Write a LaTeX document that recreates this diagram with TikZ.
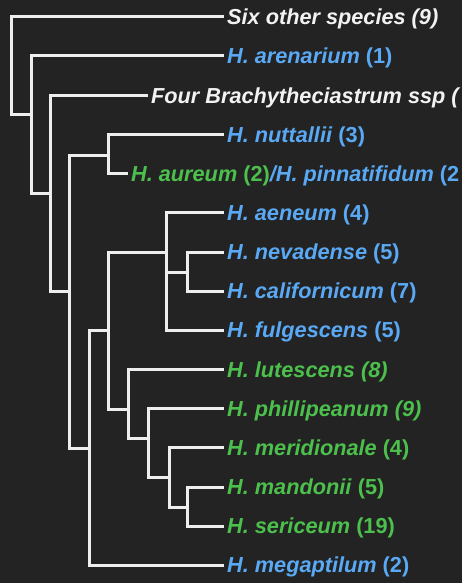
\documentclass[tikz,border=0pt]{standalone}
\usepackage{fontspec}
\setmainfont{Liberation Sans}
\definecolor{bgdark}{HTML}{232323}
\definecolor{branchgray}{HTML}{EEEEEE}
\definecolor{taxwhite}{HTML}{F2F2F2}
\definecolor{cladeblue}{HTML}{5AA9F5}
\definecolor{cladegreen}{HTML}{4CC04C}
\tikzset{
  branch/.style={draw=branchgray, line width=3pt},
  taxon/.style={anchor=west, inner xsep=3pt, inner ysep=0pt, text height=15.5pt, text depth=0pt,
    font=\fontsize{21.7}{26}\selectfont\bfseries\itshape},
}
\newcommand{\tcount}[1]{\textup{#1}}
\begin{document}
\begin{tikzpicture}[x=1pt, y=-1pt]
    \fill[bgdark] (0,0) rectangle (462,583);
    \useasboundingbox (0,0) rectangle (462,583);

    \node[taxon, text=taxwhite] (six) at (224,17) {Six other species (9)};
    \node[taxon, text=cladeblue] (aren) at (224,56) {H. arenarium \tcount{(1)}};
    \node[taxon, text=taxwhite] (brach) at (148,95.5) {Four Brachytheciastrum ssp (};
    \node[taxon, text=cladeblue] (nutt) at (224,134.5) {H. nuttallii \tcount{(3)}};
    \node[taxon, text=cladegreen] (aur) at (128,173.5) {H. aureum \tcount{(2)}\textcolor{cladeblue}{/H. pinnatifidum \tcount{(2}}};
    \node[taxon, text=cladeblue] (aen) at (224,212.5) {H. aeneum \tcount{(4)}};
    \node[taxon, text=cladeblue] (nev) at (224,252) {H. nevadense \tcount{(5)}};
    \node[taxon, text=cladeblue] (cal) at (224,291) {H. californicum \tcount{(7)}};
    \node[taxon, text=cladeblue] (fulg) at (224,330) {H. fulgescens \tcount{(5)}};
    \node[taxon, text=cladegreen] (lut) at (224,369.5) {H. lutescens (8)};
    \node[taxon, text=cladegreen] (phil) at (224,408.5) {H. phillipeanum (9)};
    \node[taxon, text=cladegreen] (mer) at (224,447.5) {H. meridionale \tcount{(4)}};
    \node[taxon, text=cladegreen] (mand) at (224,487) {H. mandonii \tcount{(5)}};
    \node[taxon, text=cladegreen] (seri) at (224,526) {H. sericeum \tcount{(19)}};
    \node[taxon, text=cladeblue] (mega) at (224,565) {H. megaptilum \tcount{(2)}};

    \coordinate (root) at (11,66);
    \coordinate (nA) at (31,115);
    \coordinate (nB) at (50,193);
    \coordinate (nC) at (69,291);
    \coordinate (nK) at (108,155);
    \coordinate (nD) at (89,448);
    \coordinate (nE) at (108,330);
    \coordinate (nF) at (166.5,252);
    \coordinate (nN) at (187,272);
    \coordinate (nG) at (128,409);
    \coordinate (nH) at (148,438);
    \coordinate (nI) at (169,477);
    \coordinate (nJ) at (187,507);

    \draw[branch] (root) |- (six.west) (root) |- (nA);
    \draw[branch] (nA) |- (aren.west) (nA) |- (nB);
    \draw[branch] (nB) |- (brach.west) (nB) |- (nC);
    \draw[branch] (nC) |- (nK) (nC) |- (nD);
    \draw[branch] (nK) |- (nutt.west) (nK) |- (aur.west);
    \draw[branch] (nD) |- (nE) (nD) |- (mega.west);
    \draw[branch] (nE) |- (nF) (nE) |- (nG);
    \draw[branch] (nF) |- (aen.west) (nF) |- (nN) (nF) |- (fulg.west);
    \draw[branch] (nN) |- (nev.west) (nN) |- (cal.west);
    \draw[branch] (nG) |- (lut.west) (nG) |- (nH);
    \draw[branch] (nH) |- (phil.west) (nH) |- (nI);
    \draw[branch] (nI) |- (mer.west) (nI) |- (nJ);
    \draw[branch] (nJ) |- (mand.west) (nJ) |- (seri.west);
\end{tikzpicture}
\end{document}
